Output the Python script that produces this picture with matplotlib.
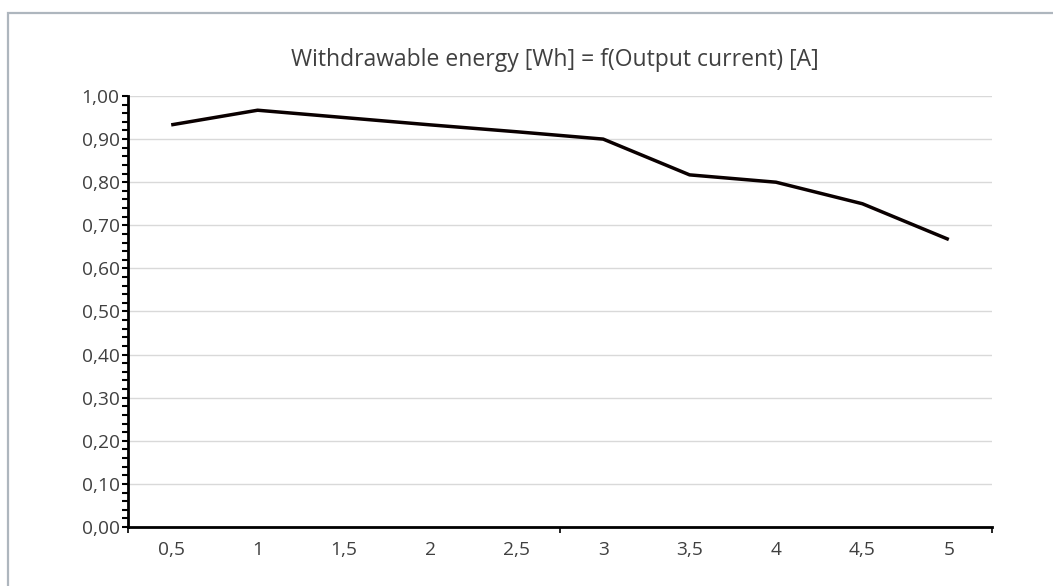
import matplotlib
matplotlib.use("Agg")
import matplotlib.pyplot as plt
from matplotlib.patches import Rectangle
from matplotlib.ticker import FixedLocator, MultipleLocator, FuncFormatter

# ---- data ----
categories = ["0,5", "1", "1,5", "2", "2,5", "3", "3,5", "4", "4,5", "5"]
energy_wh = [0.933, 0.967, 0.950, 0.933, 0.917, 0.900, 0.817, 0.800, 0.750, 0.667]
title = "Withdrawable energy [Wh] = f(Output current) [A]"

W, H, DPI = 1053, 586, 100
plt.rcParams['font.family'] = ['Open Sans', 'DejaVu Sans']
text_color = "#404040"

fig = plt.figure(figsize=(W / DPI, H / DPI), dpi=DPI)
fig.patch.set_facecolor("white")

# outer chart border
fig.patches.append(Rectangle((8 / W, -20 / H), (W + 20) / W, (H - 13 + 20) / H,
                             transform=fig.transFigure, fill=False,
                             edgecolor="#aeb6be", linewidth=1.6, zorder=0))

left, right = 128 / W, 992 / W
bottom, top = (H - 527) / H, (H - 96) / H
ax = fig.add_axes([left, bottom, right - left, top - bottom])

x = list(range(len(categories)))
ax.plot(x, energy_wh, color="#0a0000", linewidth=2.5, solid_joinstyle="round",
        solid_capstyle="butt", zorder=3)

ax.set_xlim(-0.5, len(categories) - 0.5)
ax.set_ylim(0, 1.0)

# grid
ax.yaxis.set_major_locator(MultipleLocator(0.1))
ax.yaxis.set_minor_locator(MultipleLocator(0.02))
ax.yaxis.set_major_formatter(FuncFormatter(lambda v, p: f"{v:.2f}".replace(".", ",")))
ax.grid(axis="y", which="major", color="#d9d9d9", linewidth=1.0, zorder=0)
ax.set_axisbelow(True)

# x axis: ticks at category boundaries every 5, labels at category centres
ax.xaxis.set_major_locator(FixedLocator([-0.5, 4.5, len(categories) - 0.5]))
ax.xaxis.set_minor_locator(FixedLocator(x))
ax.xaxis.set_major_formatter(FuncFormatter(lambda v, p: ""))
ax.set_xticks(x, minor=True)
ax.set_xticklabels(categories, minor=True)
ax.tick_params(axis="x", which="major", direction="out", length=4, width=1.2, color="black")
ax.tick_params(axis="x", which="minor", length=0, pad=10, labelsize=13.8, labelcolor=text_color)

ax.tick_params(axis="y", which="major", direction="out", length=4, width=1.5, color="black",
               labelsize=13.8, labelcolor=text_color, pad=2)
ax.tick_params(axis="y", which="minor", direction="out", length=4, width=1.5, color="black")

for s in ["top", "right"]:
    ax.spines[s].set_visible(False)
ax.spines["left"].set_linewidth(2.0)
ax.spines["bottom"].set_linewidth(2.0)
ax.spines["left"].set_color("black")
ax.spines["bottom"].set_color("black")

fig.text(555 / W, 1 - 60 / H, title, ha="center", va="center",
         fontsize=16.5, color=text_color)

fig.savefig("out.png", dpi=DPI, facecolor="white")
